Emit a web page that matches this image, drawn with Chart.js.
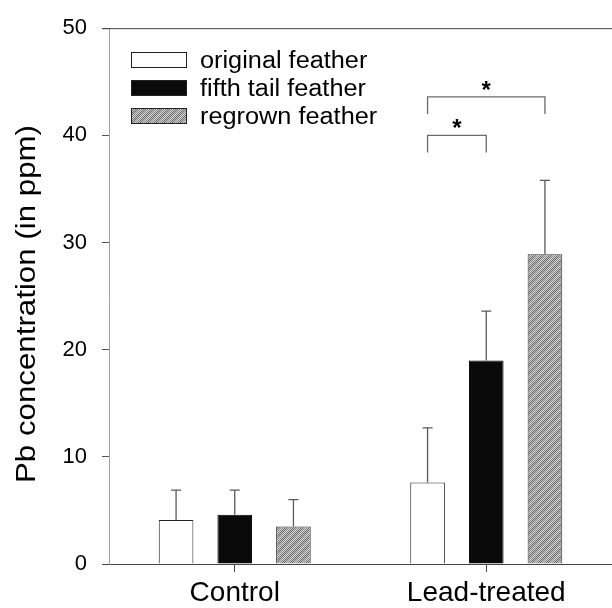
<!DOCTYPE html>
<html>
<head>
<meta charset="UTF-8">
<title>Pb concentration</title>
<script src="https://cdn.jsdelivr.net/npm/chart.js"></script>
<style>
  body { margin: 0; background: #fff; }
  canvas { display: block; }
</style>
</head>
<body>
<canvas id="grafico" width="612" height="608"></canvas>
<script>
// data
const grupos = ['Control', 'Lead-treated'];
const series = ['original feather', 'fifth tail feather', 'regrown feather'];
const original = [4.1, 7.6];
const quinta = [4.6, 19.0];
const recrescida = [3.5, 28.9];
const erroOriginal = [2.8, 5.1];
const erroQuinta = [2.3, 4.6];
const erroRecrescida = [2.5, 6.9];
const ticksY = [0, 10, 20, 30, 40, 50];
// significance brackets: [dataset from, dataset to, line level, leg bottom]
const colchetes = [
  [0, 1, 40.0, 38.4],
  [0, 2, 43.6, 42.0]
];

const fonte = "'Liberation Sans', Arial, sans-serif";

// stippled grey with faint diagonal light bands
function padraoCinza() {
  const c = document.createElement('canvas');
  c.width = 8; c.height = 8;
  const g = c.getContext('2d');
  for (let i = 0; i < 8; i++) {
    for (let j = 0; j < 8; j++) {
      const xadrez = (i + j) % 2 === 0;
      const faixa = ((i + j) % 8) < 3;
      if (faixa) g.fillStyle = xadrez ? '#8a8a8a' : '#dcdcdc';
      else g.fillStyle = xadrez ? '#686868' : '#c6c6c6';
      g.fillRect(i, j, 1, 1);
    }
  }
  return g.createPattern(c, 'repeat');
}

const ctx = document.getElementById('grafico').getContext('2d');
const cinza = padraoCinza();
const erros = [erroOriginal, erroQuinta, erroRecrescida];

const extras = {
  id: 'extras',
  afterDatasetsDraw(chart) {
    const c = chart.ctx;
    const y = chart.scales.y;
    const area = chart.chartArea;
    c.save();
    // error bars (upper only)
    c.strokeStyle = '#5a5a5a';
    c.lineWidth = 1.3;
    chart.data.datasets.forEach((ds, i) => {
      chart.getDatasetMeta(i).data.forEach((el, j) => {
        const y0 = y.getPixelForValue(ds.data[j]);
        const y1 = y.getPixelForValue(ds.data[j] + erros[i][j]);
        c.beginPath();
        c.moveTo(el.x, y0); c.lineTo(el.x, y1);
        c.moveTo(el.x - 5, y1); c.lineTo(el.x + 5, y1);
        c.stroke();
      });
    });
    // brackets with stars over the lead-treated group
    c.strokeStyle = '#6a6a6a';
    c.lineWidth = 1.3;
    c.fillStyle = '#000';
    c.font = 'bold 24px ' + fonte;
    c.textAlign = 'center';
    c.textBaseline = 'alphabetic';
    colchetes.forEach(([a, b, nivel, perna]) => {
      const xa = chart.getDatasetMeta(a).data[1].x;
      const xb = chart.getDatasetMeta(b).data[1].x;
      const yl = y.getPixelForValue(nivel);
      const yp = y.getPixelForValue(perna);
      c.beginPath();
      c.moveTo(xa, yp); c.lineTo(xa, yl); c.lineTo(xb, yl); c.lineTo(xb, yp);
      c.stroke();
      c.fillText('*', (xa + xb) / 2, yl + 1);
    });
    // top frame line and small left extension of the x axis
    c.strokeStyle = '#444';
    c.lineWidth = 1;
    c.beginPath();
    c.moveTo(area.left - 7, area.top + 0.5); c.lineTo(area.right, area.top + 0.5);
    c.moveTo(area.left - 7, area.bottom + 0.5); c.lineTo(area.left, area.bottom + 0.5);
    c.stroke();
    c.restore();
  },
  afterDraw(chart) {
    const c = chart.ctx;
    c.save();
    // legend inside the plot
    chart.data.datasets.forEach((ds, i) => {
      const top = 52 + i * 28;
      c.fillStyle = ds.backgroundColor;
      c.fillRect(131, top, 56, 16);
      c.strokeStyle = '#222';
      c.lineWidth = 1;
      c.strokeRect(131.5, top + 0.5, 55, 15);
      c.save();
      c.fillStyle = '#000';
      c.font = '23px ' + fonte;
      c.textAlign = 'left';
      c.textBaseline = 'alphabetic';
      c.translate(200, top + 16);
      c.scale(1.1, 1);
      c.fillText(ds.label, 0, 0);
      c.restore();
    });
    // y axis title
    c.save();
    c.fillStyle = '#000';
    c.font = '27px ' + fonte;
    c.textAlign = 'center';
    c.textBaseline = 'alphabetic';
    const titulo = 'Pb concentration (in ppm)';
    const esc = 358 / c.measureText(titulo).width;
    c.translate(35, 304);
    c.rotate(-Math.PI / 2);
    c.scale(esc, 1);
    c.fillText(titulo, 0, 0);
    c.restore();
    c.restore();
  }
};

new Chart(ctx, {
  type: 'bar',
  data: {
    labels: grupos,
    datasets: [
      { label: series[0], data: original, backgroundColor: '#ffffff', borderColor: '#222', borderWidth: 1 },
      { label: series[1], data: quinta, backgroundColor: '#0a0a0a', borderColor: '#000', borderWidth: 1 },
      { label: series[2], data: recrescida, backgroundColor: cinza, borderColor: '#333', borderWidth: 1 }
    ]
  },
  options: {
    responsive: false,
    animation: false,
    categoryPercentage: 0.7,
    barPercentage: 0.59,
    layout: { padding: { top: 25, right: 0, bottom: 0, left: 0 } },
    plugins: {
      legend: { display: false },
      tooltip: { enabled: false }
    },
    scales: {
      x: {
        afterFit: s => { s.height = 44; },
        border: { color: '#444', width: 1 },
        grid: { offset: false, drawOnChartArea: false, drawTicks: true, tickLength: 8, color: '#444' },
        ticks: { color: '#000', font: { family: fonte, size: 28 }, padding: 4, maxRotation: 0 }
      },
      y: {
        min: 0,
        max: 50,
        afterFit: s => { s.width = 109; },
        afterBuildTicks: s => { s.ticks = ticksY.map(v => ({ value: v })); },
        border: { color: '#a0a0a0', width: 1 },
        grid: { drawOnChartArea: false, drawTicks: true, tickLength: 7, color: '#555' },
        ticks: { color: '#000', font: { family: fonte, size: 22 }, padding: 15 }
      }
    }
  },
  plugins: [extras]
});
</script>
</body>
</html>
